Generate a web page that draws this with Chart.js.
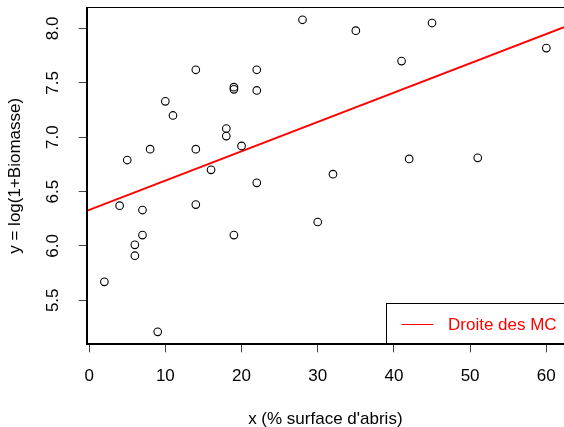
<!DOCTYPE html>
<html>
<head>
<meta charset="utf-8">
<script src="https://cdn.jsdelivr.net/npm/chart.js@4.4.1/dist/chart.umd.min.js"></script>
<style>
  html, body { margin: 0; padding: 0; background: #ffffff; overflow: hidden; }
  #wrap { width: 564px; height: 427px; position: relative; }
</style>
</head>
<body>
<div id="wrap"><canvas id="c" width="564" height="427"></canvas></div>
<script>
// Shelter cover (%) and log(1+biomass) per site
const surfaceAbris = [2, 4, 5, 6, 6, 7, 7, 8, 9, 10, 11, 14, 14, 14, 16, 18, 18, 19, 19, 19, 20, 22, 22, 22, 28, 30, 32, 35, 41, 42, 45, 51, 60];
const logBiomasse = [5.67, 6.37, 6.79, 6.01, 5.91, 6.33, 6.10, 6.89, 5.21, 7.33, 7.20, 7.62, 6.89, 6.38, 6.70, 7.08, 7.01, 7.46, 7.44, 6.10, 6.92, 7.62, 7.43, 6.58, 8.08, 6.22, 6.66, 7.98, 7.70, 6.80, 8.05, 6.81, 7.82];

// Axis ticks and their labels
const xTicks = [0, 10, 20, 30, 40, 50, 60];
const xTickLabels = ['0', '10', '20', '30', '40', '50', '60'];
const yTicks = [5.5, 6.0, 6.5, 7.0, 7.5, 8.0];
const yTickLabels = ['5.5', '6.0', '6.5', '7.0', '7.5', '8.0'];

const xTitle = "x (% surface d'abris)";
const yTitle = 'y = log(1+Biomasse)';
const legendLabel = 'Droite des MC';

// Ordinary least squares fit
function olsFit(xs, ys) {
  const n = xs.length;
  const mx = xs.reduce((a, b) => a + b, 0) / n;
  const my = ys.reduce((a, b) => a + b, 0) / n;
  let sxy = 0, sxx = 0;
  for (let i = 0; i < n; i++) {
    sxy += (xs[i] - mx) * (ys[i] - my);
    sxx += (xs[i] - mx) * (xs[i] - mx);
  }
  const b = sxy / sxx;
  return { a: my - b * mx, b: b };
}
const fit = olsFit(surfaceAbris, logBiomasse);

// Axis limits padded by 4% of the data range on each side
function paddedRange(v) {
  const lo = Math.min(...v), hi = Math.max(...v);
  const d = (hi - lo) * 0.04;
  return [lo - d, hi + d];
}
const [xMin, xMax] = paddedRange(surfaceAbris);
const [yMin, yMax] = paddedRange(logBiomasse);

const points = surfaceAbris.map((x, i) => ({ x: x, y: logBiomasse[i] }));
const fitLine = [xMin, xMax].map(x => ({ x: x, y: fit.a + fit.b * x }));

const FONT = "'Liberation Sans', Arial, Helvetica, sans-serif";

// Keep the plotting region fixed: no extra room reserved for overflowing labels
function noLabelPadding(s) {
  s.paddingTop = 0; s.paddingBottom = 0; s.paddingLeft = 0; s.paddingRight = 0;
}

// Frame around the plotting region plus the bottom-right legend box
const framePlugin = {
  id: 'frame',
  afterDraw(chart) {
    const { ctx, chartArea: ca } = chart;
    ctx.save();
    ctx.strokeStyle = '#000';
    ctx.lineWidth = 1;
    ctx.strokeRect(Math.round(ca.left) + 0.5, Math.round(ca.top) + 0.5,
                   Math.round(ca.right - ca.left) + 2, Math.round(ca.bottom - ca.top) - 1);

    // legend
    const boxW = 178, boxH = 41;
    const bx = Math.round(ca.right - boxW) + 0.5;
    const by = Math.round(ca.bottom - boxH) + 0.5;
    ctx.fillStyle = '#fff';
    ctx.fillRect(bx, by, boxW + 2, boxH - 1);
    ctx.strokeRect(bx, by, boxW + 2, boxH - 1);
    const cy = by + 20.5;
    ctx.strokeStyle = '#ff0000';
    ctx.lineWidth = 1;
    ctx.beginPath();
    ctx.moveTo(bx + 15, Math.round(cy) + 0.5);
    ctx.lineTo(bx + 47, Math.round(cy) + 0.5);
    ctx.stroke();
    ctx.fillStyle = '#ff0000';
    ctx.font = '17px ' + FONT;
    ctx.textBaseline = 'middle';
    ctx.textAlign = 'left';
    ctx.fillText(legendLabel, bx + 61.5, cy + 1);
    ctx.restore();
  }
};

new Chart(document.getElementById('c'), {
  type: 'scatter',
  data: {
    datasets: [
      {
        label: 'obs',
        data: points,
        pointStyle: 'circle',
        pointRadius: 3.8,
        pointHoverRadius: 3.8,
        pointBorderWidth: 1.1,
        pointBorderColor: '#000',
        pointBackgroundColor: 'rgba(0,0,0,0)',
        showLine: false
      },
      {
        label: legendLabel,
        type: 'line',
        data: fitLine,
        borderColor: '#ff0000',
        borderWidth: 2,
        pointRadius: 0,
        fill: false,
        clip: 0
      }
    ]
  },
  options: {
    responsive: false,
    animation: false,
    events: [],
    layout: { autoPadding: false, padding: { top: 7.3, right: 0, left: 0, bottom: 0 } },
    plugins: { legend: { display: false }, tooltip: { enabled: false } },
    scales: {
      x: {
        type: 'linear',
        min: xMin,
        max: xMax,
        afterBuildTicks(s) { s.ticks = xTicks.map(v => ({ value: v })); },
        afterFit(s) { s.height = 82.7; noLabelPadding(s); },
        grid: { drawOnChartArea: false, drawTicks: true, tickLength: 8, color: '#444', lineWidth: 1 },
        border: { display: true, color: '#000' },
        ticks: {
          autoSkip: false,
          maxRotation: 0,
          padding: 14,
          color: '#000',
          font: { family: FONT, size: 17 },
          callback: (v, i) => xTickLabels[i]
        },
        title: {
          display: true,
          text: xTitle,
          color: '#000',
          font: { family: FONT, size: 17, lineHeight: 1 },
          padding: { top: 0, bottom: -1 }
        }
      },
      y: {
        type: 'linear',
        min: yMin,
        max: yMax,
        afterBuildTicks(s) { s.ticks = yTicks.map(v => ({ value: v })); },
        afterFit(s) { s.width = 86.7; noLabelPadding(s); },
        grid: { drawOnChartArea: false, drawTicks: true, tickLength: 8, color: '#444', lineWidth: 1 },
        border: { display: true, color: '#000' },
        ticks: {
          autoSkip: false,
          minRotation: 90,
          maxRotation: 90,
          crossAlign: 'center',
          padding: 14,
          color: '#000',
          font: { family: FONT, size: 17 },
          callback: (v, i) => yTickLabels[i]
        },
        title: {
          display: true,
          text: yTitle,
          color: '#000',
          font: { family: FONT, size: 17, lineHeight: 1 },
          padding: { top: 7, bottom: 0 }
        }
      }
    }
  },
  plugins: [framePlugin]
});
</script>
</body>
</html>
